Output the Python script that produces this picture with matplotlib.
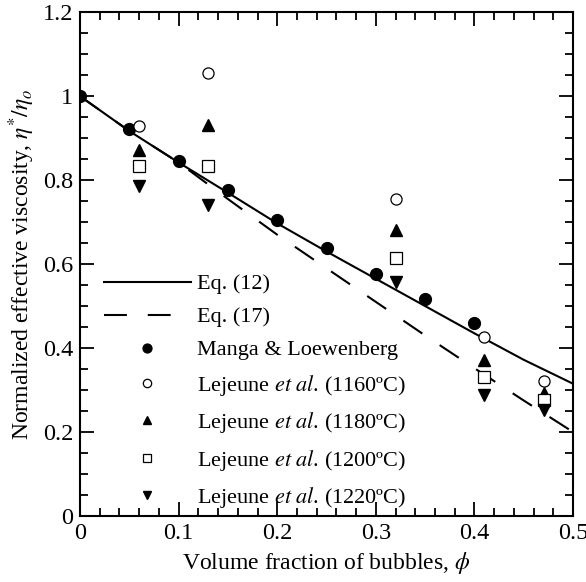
import matplotlib
matplotlib.use("Agg")
import matplotlib.pyplot as plt
from matplotlib.ticker import MultipleLocator

plt.rcParams['font.family'] = ['Liberation Serif', 'DejaVu Serif']
plt.rcParams['mathtext.fontset'] = 'stix'

# Eq. (12) and Eq. (17) curves
phi_line = [0, 0.05, 0.1, 0.15, 0.2, 0.25, 0.3, 0.35, 0.4, 0.45, 0.5]
eq12 = [1.0, 0.917, 0.842, 0.77, 0.697, 0.63, 0.565, 0.50, 0.435, 0.372, 0.315]
eq17 = [1.0, 0.917, 0.842, 0.755, 0.67, 0.59, 0.51, 0.43, 0.352, 0.275, 0.20]

# Manga & Loewenberg
phi_ml = [0, 0.05, 0.1, 0.15, 0.2, 0.25, 0.3, 0.35, 0.4]
eta_ml = [1.0, 0.921, 0.845, 0.776, 0.705, 0.638, 0.576, 0.517, 0.46]

# Lejeune et al.
phi_lej = [0.06, 0.13, 0.32, 0.41, 0.47]
eta_1160 = [0.929, 1.055, 0.755, 0.426, 0.321]
eta_1180 = [0.871, 0.931, 0.681, 0.371, 0.293]
eta_1200 = [0.833, 0.833, 0.614, 0.331, 0.276]
eta_1220 = [0.786, 0.74, 0.557, 0.288, 0.252]

xtick_vals = [0, 0.1, 0.2, 0.3, 0.4, 0.5]
xtick_labels = ['0', '0.1', '0.2', '0.3', '0.4', '0.5']
ytick_vals = [0, 0.2, 0.4, 0.6, 0.8, 1.0, 1.2]
ytick_labels = ['0', '0.2', '0.4', '0.6', '0.8', '1', '1.2']

fig = plt.figure(figsize=(5.86, 5.82), dpi=100)
ax = fig.add_axes([0.1365, 0.1134, 0.8415, 0.8656])

ax.plot(phi_line, eq12, color='black', lw=1.5, label='Eq. (12)')
ax.plot(phi_line, eq17, color='black', lw=1.5, linestyle=(0, (11, 10)), label='Eq. (17)')
ax.plot(phi_ml, eta_ml, 'o', color='black', ms=8.5, label='Manga & Loewenberg')
ax.plot(phi_lej, eta_1160, 'o', mfc='white', mec='black', mew=0.9, ms=8,
        label=r'Lejeune $\mathit{et\ al}$. (1160ºC)')
ax.plot(phi_lej, eta_1180, '^', color='black', ms=8.5,
        label=r'Lejeune $\mathit{et\ al}$. (1180ºC)')
ax.plot(phi_lej, eta_1200, 's', mfc='white', mec='black', mew=0.9, ms=8,
        label=r'Lejeune $\mathit{et\ al}$. (1200ºC)')
ax.plot(phi_lej, eta_1220, 'v', color='black', ms=8.5,
        label=r'Lejeune $\mathit{et\ al}$. (1220ºC)')

ax.set_xlim(0, 0.5)
ax.set_ylim(0, 1.2)
ax.set_xticks(xtick_vals)
ax.set_xticklabels(xtick_labels)
ax.set_yticks(ytick_vals)
ax.set_yticklabels(ytick_labels)
ax.xaxis.set_minor_locator(MultipleLocator(0.02))
ax.yaxis.set_minor_locator(MultipleLocator(0.05))
ax.tick_params(which='both', direction='in', top=True, right=True, labelsize=17.5, width=1.3)
ax.tick_params(which='major', length=10, pad=5)
ax.tick_params(which='minor', length=6)
for s in ax.spines.values():
    s.set_linewidth(1.5)

ax.set_xlabel(r'Volume fraction of bubbles, $\phi$', fontsize=17, labelpad=4)
ax.set_ylabel(r'Normalized effective viscosity, $\eta^{*}/\eta_o$', fontsize=17, labelpad=4)

ax.legend(loc='lower left', bbox_to_anchor=(0.008, -0.028), frameon=False, fontsize=16,
          handlelength=3.9, handletextpad=0.3, labelspacing=0.56, markerscale=0.75)

fig.savefig('out.png', dpi=100)
